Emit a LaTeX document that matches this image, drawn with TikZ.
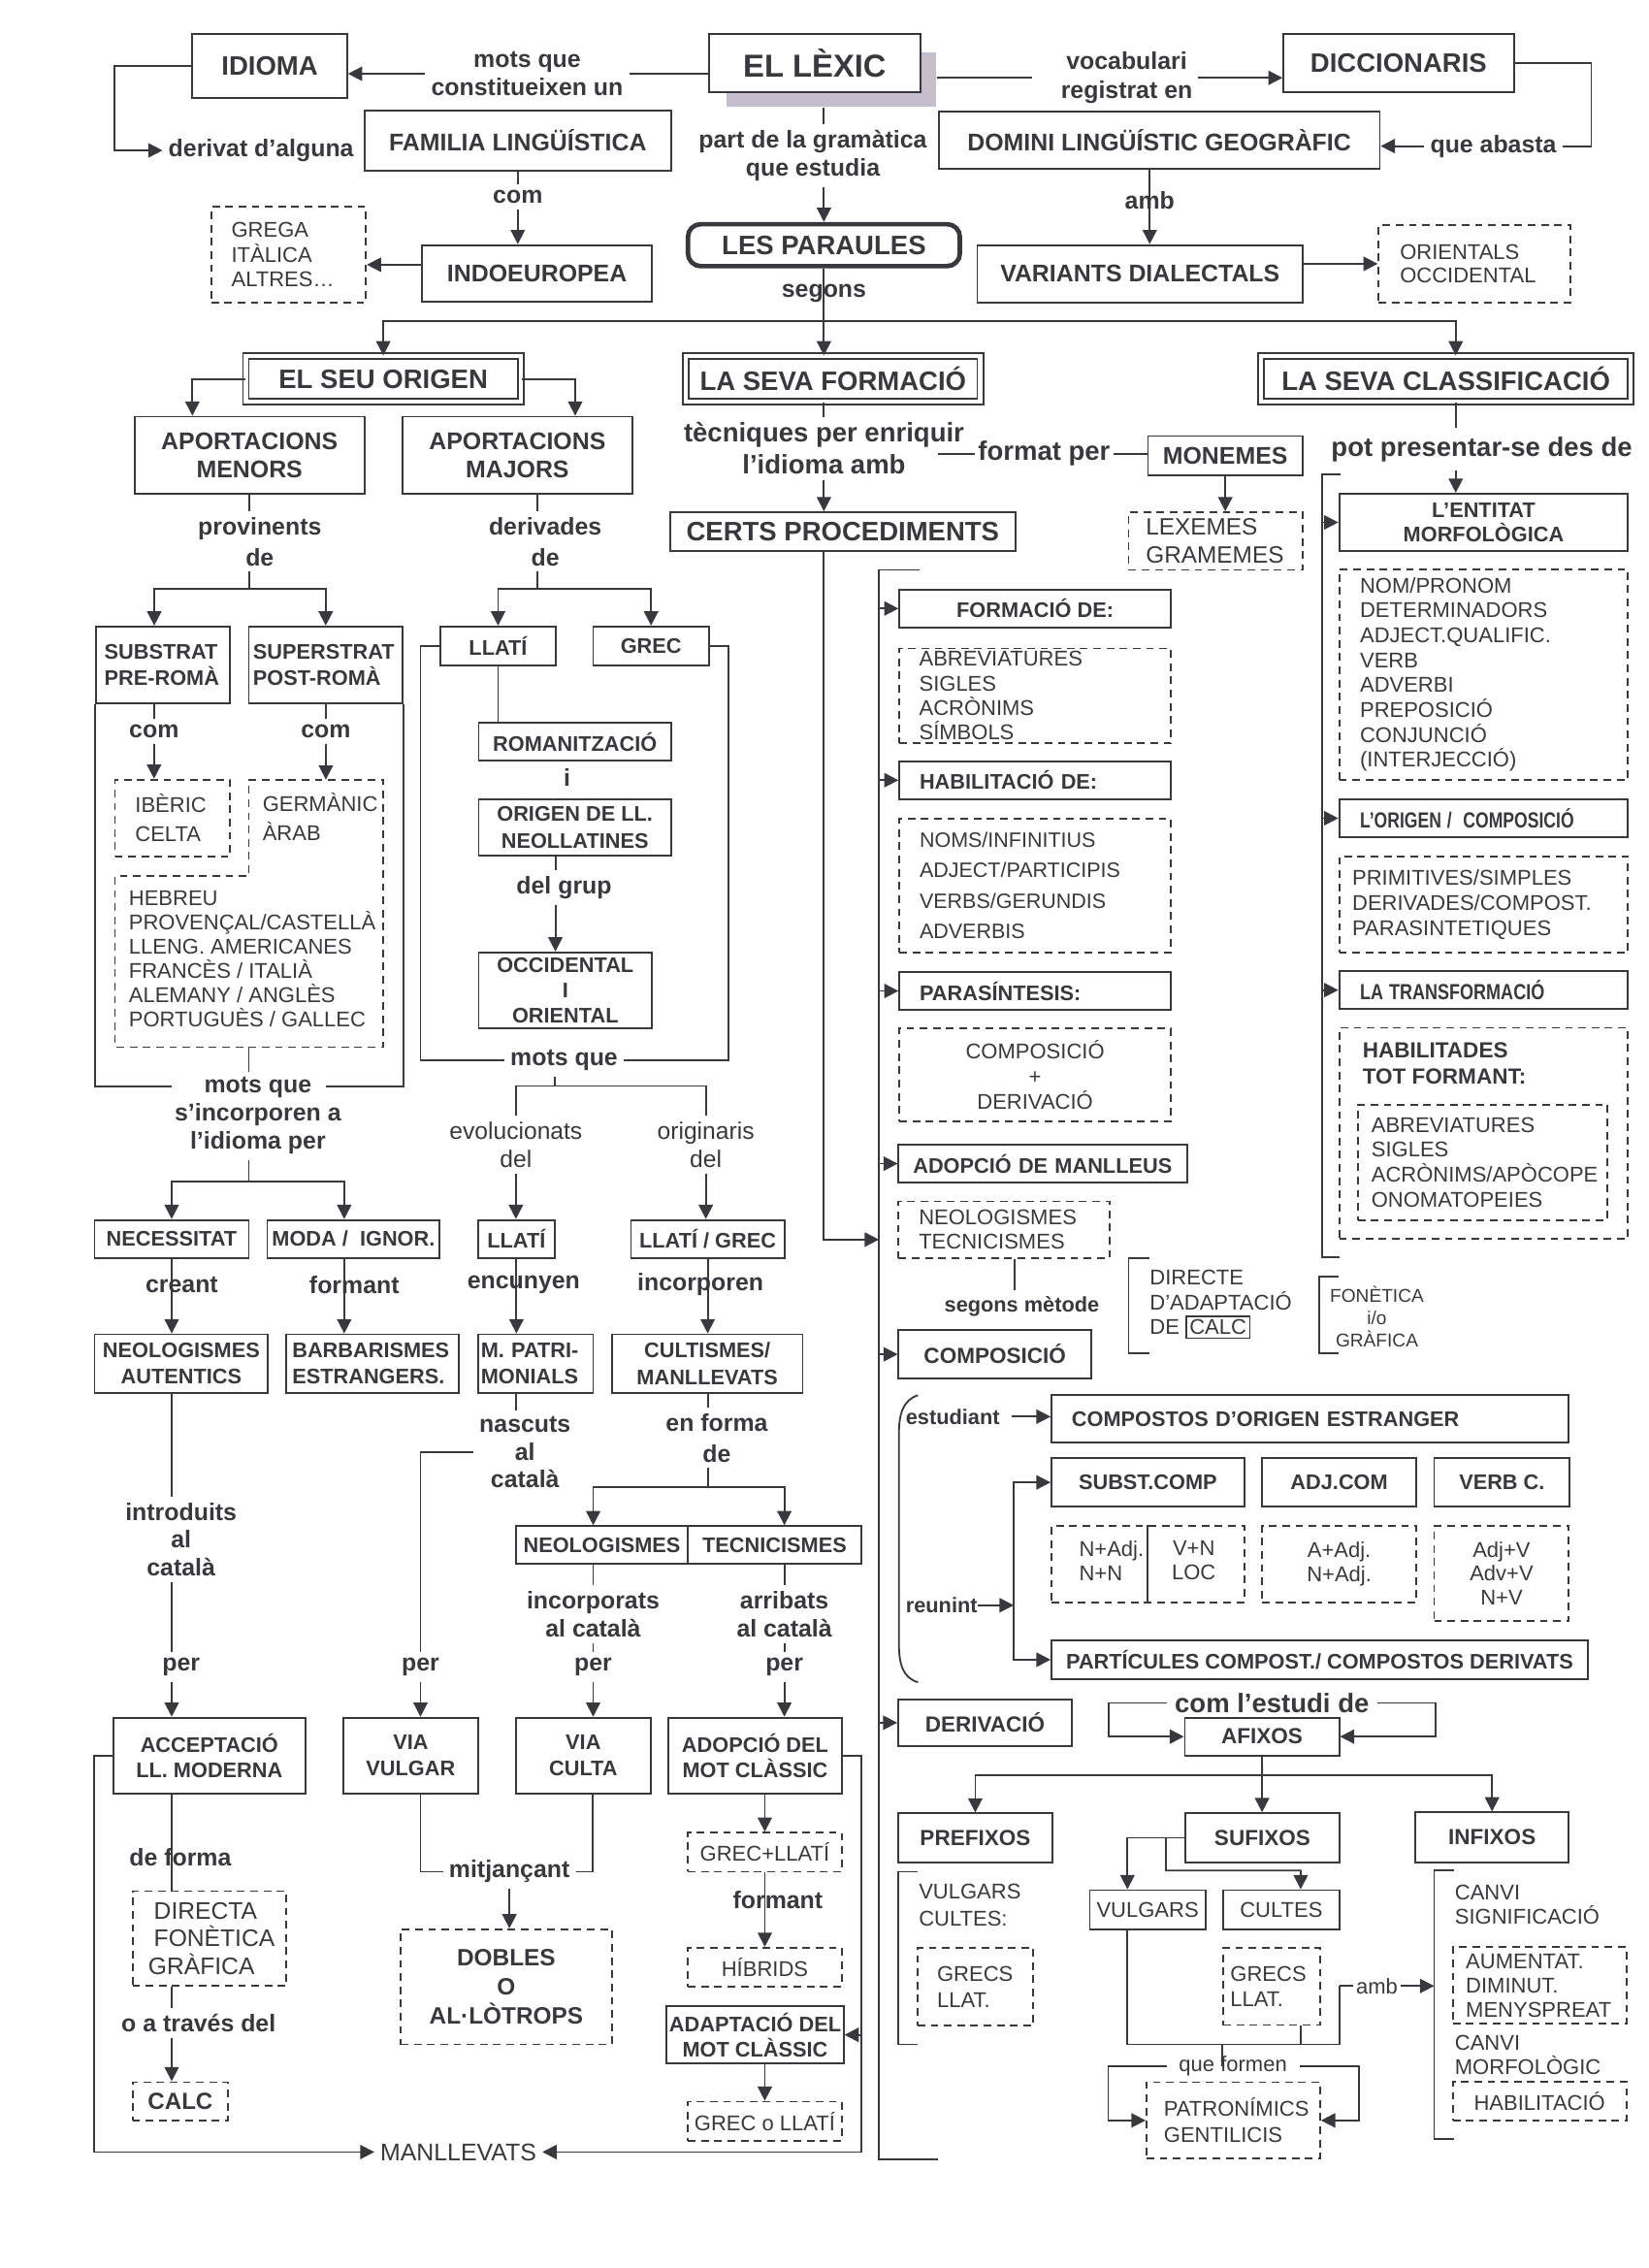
\documentclass[tikz,border=0pt]{standalone}
\usepackage{fontspec}
\setmainfont{Liberation Sans}
\usepackage{graphicx}
\usetikzlibrary{arrows.meta}
\definecolor{ink}{RGB}{58,56,62}
\definecolor{lexshade}{RGB}{198,190,202}
\setlength\fboxsep{1pt}
\setlength\fboxrule{0.6pt}
\tikzset{
  dsh/.style={dash pattern=on 3pt off 2.2pt},
  box/.style={draw, inner sep=1pt, align=center},
  dbox/.style={draw, dsh, inner sep=1pt, align=center},
  dbl/.style={draw, double=white, double distance=1.6pt, inner sep=1pt, align=center},
  sz/.style 2 args={minimum width=#1*0.02cm, minimum height=#2*0.02cm},
  lbox/.code n args={3}{%
    \pgfmathsetmacro\lbw{(#1-2*#3)*0.02}%
    \pgfmathsetmacro\lbp{#3*0.02}%
    \edef\lbopts{align=left, text width=\lbw cm, inner xsep=\lbp cm, minimum height=#2*0.02cm}%
    \expandafter\pgfkeysalso\expandafter{\lbopts}},
  arr/.style={-{Triangle[length=5.6pt,width=5.6pt]}},
  lab/.style={font=\fontsize{9.5}{#1}\selectfont\bfseries, align=center, inner sep=2pt},
  lab/.default=11,
  hd/.style={font=\fontsize{10.5}{12.4}\selectfont\bfseries},
  bx/.style={font=\fontsize{8.3}{#1}\selectfont\bfseries},
  bx/.default=10.6,
  bb/.style={font=\fontsize{8.6}{10}\selectfont\bfseries},
  pl/.style={font=\fontsize{8.4}{#1}\selectfont},
  pl/.default=9.8,
}
\begin{document}
\begin{tikzpicture}[x=0.02cm, y=-0.02cm, color=ink, line width=0.7pt]
\useasboundingbox (0,0) rectangle (1140,1568);

% top row
\node[fill=lexshade, sz={145}{38}, inner sep=0] (lexsh) at (574.5,55) {};
\node[box, fill=white, font=\fontsize{12.5}{14}\selectfont\bfseries, sz={146.5}{40}] (lexic) at (563.3,43.6) {EL LÈXIC};
\node[box, hd, sz={107}{44.4}] (idioma) at (186.5,45.8) {IDIOMA};
\node[box, hd, sz={159.3}{40}] (dicc) at (967,43.6) {DICCIONARIS};
\node[box, lab, sz={212}{41.5}] (famil) at (358,97.3) {FAMILIA LINGÜÍSTICA};
\node[box, lab, sz={305}{39.8}] (domini) at (801.5,96.9) {DOMINI LINGÜÍSTIC GEOGRÀFIC};
\node[box, lab, sz={158.9}{39.2}] (indo) at (371.3,189) {INDOEUROPEA};
\node[box, lab, sz={225}{39.6}] (varia) at (788.2,189.2) {VARIANTS DIALECTALS};
\node[dbox, pl=9.9, lbox={107}{66}{14}] (grega) at (199.5,176) {GREGA\\ITÀLICA\\ALTRES…};
\node[dbox, pl=9.4, lbox={132.7}{53.2}{14.8}] (orient) at (1019.5,182.4) {ORIENTALS\\OCCIDENTAL};
\node[box, hd, line width=1.8pt, rounded corners=5pt, sz={188}{29}] (paraules) at (569.65,169.5) {LES PARAULES};
\node[lab=11.3] (motsq) at (364.5,51) {mots que\\constitueixen un};
\node[lab=11.5] (vocab) at (779,53.8) {vocabulari\\registrat en};
\node[lab] (abasta) at (1032.5,101) {que abasta};
\node[lab] (deriv) at (180.5,104) {derivat d’alguna};
\node[lab] (com1) at (358,136) {com};
\node[lab=11.3] (gram) at (562,107.5) {part de la gramàtica\\que estudia};
\node[lab] (amb1) at (794.9,138.6) {amb};
\node[lab] (segons) at (569.7,202.7) {segons};

% el seu origen
\node[dbl, hd, sz={190}{31.3}] (origen) at (265,262) {EL SEU ORIGEN};
\node[dbl, hd, sz={203.5}{31.3}] (formacio) at (576,262) {LA SEVA FORMACIÓ};
\node[dbl, hd, sz={255.8}{31.3}] (classif) at (999.7,262) {LA SEVA CLASSIFICACIÓ};
\node[box, lab, sz={159}{53.3}] (menors) at (172.5,314.7) {APORTACIONS\\MENORS};
\node[box, lab, sz={158.6}{53.3}] (majors) at (357.7,314.7) {APORTACIONS\\MAJORS};
\node[lab=12] (provin) at (179.6,374.5) {provinents\\de};
\node[lab=12] (derivd) at (377,374.5) {derivades\\de};
\node[box, bx, lbox={92.9}{53.4}{6}] (substr) at (112.65,459.8) {SUBSTRAT\\PRE-ROMÀ};
\node[box, bx, lbox={106.4}{53.4}{3}] (superstr) at (225.2,459.8) {SUPERSTRAT\\POST-ROMÀ};
\node[lab] (com2) at (106.5,505.8) {com};
\node[lab] (com3) at (225.3,505.8) {com};
\node[dbox, pl=11.6, lbox={79.6}{53.2}{14}] (iberic) at (119.3,565.6) {IBÈRIC\\CELTA};
\node[pl=11.6, align=left, anchor=west, inner sep=0] (germ) at (181,564.75) {GERMÀNIC\\ÀRAB};
\node[pl=9.6, align=left, anchor=west, inner sep=0] (hebreu) at (88.5,663) {HEBREU\\PROVENÇAL/CASTELLÀ\\LLENG. AMERICANES\\FRANCÈS / ITALIÀ\\ALEMANY / ANGLÈS\\PORTUGUÈS / GALLEC};
\node[lab=11] (motsinc) at (178.3,771.4) {mots que\\s’incorporen a\\l’idioma per};
\node[box, bx, sz={106.6}{26.2}] (necess) at (118.7,856.5) {NECESSITAT};
\node[box, bx, sz={119.2}{26.2}] (moda) at (244.4,856.5) {MODA /\ \ IGNOR.};
\node[box, bx, sz={119.9}{40.3}] (neoaut) at (125.35,942.65) {NEOLOGISMES\\AUTENTICS};
\node[box, bx, lbox={119.8}{40.3}{4.5}] (barb) at (257.5,942.65) {BARBARISMES\\ESTRANGERS.};
\node[lab=10.9] (introd) at (125.2,1064.2) {introduits\\al\\català};
\node[lab] (per1) at (125.2,1152.6) {per};
\node[box, bx=9.8, sz={132.9}{52.5}] (accept) at (144.75,1213.75) {ACCEPTACIÓ\\LL. MODERNA};
\node[dbox, font=\fontsize{9.4}{11}\selectfont, lbox={106.5}{65.6}{11}] (direct) at (144.85,1340.2) {\hspace*{2.2pt}DIRECTA\\\hspace*{2.2pt}FONÈTICA\\GRÀFICA};
\node[lab] (atrav) at (137.3,1398.7) {o a través del};
\node[dbox, font=\fontsize{9.2}{11}\selectfont\bfseries, sz={66.2}{26.5}] (calc1) at (124.7,1452.75) {CALC};
\node[font=\fontsize{9.5}{11}\selectfont, inner sep=2pt] (manll) at (316.9,1487.8) {MANLLEVATS};

% llati i grec
\node[box, bx, sz={79.5}{27.2}] (llati1) at (344.35,446.7) {LLATÍ};
\node[box, bx, sz={80.1}{27.2}] (grec1) at (450.15,446.7) {GREC};
\node[box, bx, sz={133}{25.9}] (romanit) at (397.5,512.85) {ROMANITZACIÓ};
\node[lab] (i1) at (392,537.3) {i};
\node[box, bx, sz={133}{39.2}] (neollat) at (397.5,572.1) {ORIGEN DE LL.\\NEOLLATINES};
\node[lab] (grup) at (390,613.5) {del grup};
\node[box, bx=10, sz={119.7}{52.6}] (occid) at (390.85,684.7) {OCCIDENTAL\\I\\ORIENTAL};
\node[lab] (motsq2) at (390,733) {mots que};
\node[font=\fontsize{9.4}{11}\selectfont, align=center, inner sep=2pt] (evol) at (356.7,791.3) {evolucionats\\del};
\node[font=\fontsize{9.4}{11}\selectfont, align=center, inner sep=2pt] (orig) at (488,791.3) {originaris\\del};
\node[box, bx, sz={53.1}{26.2}] (llati2) at (357.05,856.5) {LLATÍ};
\node[box, bx, sz={106}{26.2}] (llagr) at (489.3,856.5) {LLATÍ / GREC};
\node[box, bx, lbox={79.6}{40.3}{2}] (patri) at (370.3,942.65) {M. PATRI-\\MONIALS};
\node[box, bx, sz={132}{40.3}] (cult) at (489,942.65) {CULTISMES/\\MANLLEVATS};
\node[lab=10.8] (nasc) at (363,1004) {nascuts\\al\\català};
\node[lab] (per2) at (290.7,1152.6) {per};
\node[lab=12] (enf) at (495.6,994.2) {en forma\\de};
\node[box, bx, sz={118.9}{26.2}] (neol) at (416.15,1068.2) {NEOLOGISMES};
\node[box, bx, sz={119.8}{26.2}] (tecn) at (535.5,1068.2) {TECNICISMES};
\node[lab=11.3] (incorp) at (410.1,1115.9) {incorporats\\al català};
\node[lab=11.3] (arrib) at (542.3,1115.9) {arribats\\al català};
\node[lab] (per3) at (410.1,1152.6) {per};
\node[lab] (per4) at (542.3,1152.6) {per};
\node[box, bx=10.2, sz={93.1}{52.5}] (vvulg) at (283.95,1213.75) {VIA\\VULGAR};
\node[box, bx=10.2, sz={93.2}{52.5}] (vcult) at (403.3,1213.75) {VIA\\CULTA};
\node[box, bx=10, sz={119.8}{52.5}] (adopc) at (522.1,1213.75) {ADOPCIÓ DEL\\MOT CLÀSSIC};
\node[lab] (mitj) at (352.2,1294) {mitjançant};
\node[dbox, font=\fontsize{9.3}{11.3}\selectfont\bfseries, sz={146}{79.6}] (dobles) at (350,1373.6) {DOBLES\\O\\AL·LÒTROPS};
\node[dbox, pl, sz={106.4}{27}] (grll) at (528.8,1280.5) {GREC+LLATÍ};
\node[dbox, pl, sz={106.4}{27}] (hibr) at (528.8,1360.1) {HÍBRIDS};
\node[box, bx=10, sz={119.8}{39.8}] (adapt) at (522.1,1406.8) {ADAPTACIÓ DEL\\MOT CLÀSSIC};
\node[dbox, pl, sz={106.4}{27}] (grol) at (528.8,1466.5) {GREC o LLATÍ};

% la seva formacio
\node[hd, align=center, inner sep=2pt] (tecniq) at (569.7,310) {tècniques per enriquir\\l’idioma amb};
\node[hd, inner sep=1pt] (formp) at (721.9,313.6) {format per};
\node[box, lab, sz={106.9}{27}] (monem) at (847.15,315) {MONEMES};
\node[dbox, font=\fontsize{9.3}{10.9}\selectfont, lbox={120.3}{39.9}{12}] (lexem) at (840.45,374.05) {LEXEMES\\GRAMEMES};
\node[box, hd, sz={238.4}{26.9}] (certs) at (582.7,367.55) {CERTS PROCEDIMENTS};
\node[box, bx, sz={187.7}{26.4}] (formde) at (715.65,420.7) {FORMACIÓ DE:};
\node[dbox, pl=9.7, lbox={187.7}{65.4}{13.7}, inner ysep=0pt] (abrev) at (715.65,481) {ABREVIATURES\\SIGLES\\ACRÒNIMS\\SÍMBOLS};
\node[box, bx, lbox={187.7}{26.2}{14}] (habil) at (715.65,539.4) {HABILITACIÓ DE:};
\node[dbox, font=\fontsize{8.2}{11.9}\selectfont, lbox={187.7}{92.4}{14}] (noms) at (715.65,612.2) {NOMS/INFINITIUS\\ADJECT/PARTICIPIS\\VERBS/GERUNDIS\\ADVERBIS};
\node[box, bx, lbox={187.7}{26.2}{14}] (paras) at (715.65,685.1) {PARASÍNTESIS:};
\node[dbox, pl=9.9, sz={187.7}{64.2}] (compder) at (715.65,743.1) {COMPOSICIÓ\\+\\DERIVACIÓ};
\node[box, bx, lbox={199.7}{26.4}{10}] (adman) at (721.15,804.5) {ADOPCIÓ DE MANLLEUS};
\node[dbox, pl=9.8, lbox={146}{39}{14}] (neotec) at (694.3,850.1) {NEOLOGISMES\\TECNICISMES};
\node[bx, inner sep=2pt] (segmet) at (706.5,903) {segons mètode};
\node[pl=9.8, align=left, anchor=west, inner sep=0] (direc) at (794.4,901.8) {DIRECTE\\D’ADAPTACIÓ\\DE \fbox{CALC}};
\node[font=\fontsize{7.3}{8.7}\selectfont, align=center, inner sep=0] (fonet) at (952,910.4) {FONÈTICA\\i/o\\GRÀFICA};
\node[box, bb, sz={133.2}{33.4}] (compos) at (687.9,936.3) {COMPOSICIÓ};
\node[bx=10, anchor=west, inner sep=0] (estud) at (625.7,979.4) {estudiant};
\node[box, bx, lbox={357.7}{32.8}{14}] (compest) at (905.85,981) {COMPOSTOS D’ORIGEN ESTRANGER};
\node[bx=10, anchor=west, inner sep=0] (reun) at (625.7,1109.8) {reunint};
\node[box, bx, sz={133.2}{33.3}] (sub) at (793.6,1024.85) {SUBST.COMP};
\node[box, bx, sz={106.6}{33.3}] (adj) at (925.9,1024.85) {ADJ.COM};
\node[box, bx, sz={93.6}{33.3}] (verb) at (1038.4,1024.85) {VERB C.};
\node[dbox, sz={133.2}{52.7}] (nn) at (793.6,1081.35) {};
\node[pl=9.5, align=left, anchor=west, inner sep=0] (nn1) at (745.5,1078.85) {N+Adj.\\N+N};
\node[pl=9.5, align=center, inner sep=0] (nn2) at (825.4,1078.85) {V+N\\LOC};
\node[dbox, pl=9.5, sz={106.6}{52.7}] (aa) at (925.9,1081.35) {A+Adj.\\N+Adj.};
\node[dbox, pl=9.5, sz={93.1}{65.6}] (vv) at (1038.15,1087.8) {Adj+V\\Adv+V\\N+V};
\node[box, bx, sz={370.8}{26.9}] (partic) at (912.4,1147.45) {PARTÍCULES COMPOST./ COMPOSTOS DERIVATS};
\node[box, bb, sz={120.1}{32.6}] (derivac) at (681.05,1191) {DERIVACIÓ};
\node[hd, inner sep=2.8pt] (estudi) at (879.4,1177.3) {com l’estudi de};
\node[box, bb, sz={106.7}{26.2}] (afix) at (872.55,1200.6) {AFIXOS};
\node[box, bb, sz={106.6}{33.9}] (pref) at (674.3,1270.65) {PREFIXOS};
\node[box, bb, sz={106.2}{34.1}] (suf) at (872.8,1270.55) {SUFIXOS};
\node[box, bb, sz={106.2}{34.6}] (inf) at (1031.6,1270.3) {INFIXOS};
\node[pl=10.5, align=left, anchor=west, inner sep=0] (vulcul) at (634.7,1317.25) {VULGARS\\CULTES:};
\node[dbox, pl=10.2, lbox={80.1}{53.9}{13.5}] (grecs1) at (674.45,1373.55) {GRECS\\LLAT.};
\node[box, pl, sz={79.9}{27}] (vulg) at (793.45,1320.3) {VULGARS};
\node[box, pl, sz={80.1}{27}] (cult2) at (885.85,1320.3) {CULTES};
\node[dbox, pl=10.2, lbox={66.9}{53.4}{4.9}] (grecs2) at (879.25,1373.3) {GRECS\\LLAT.};
\node[pl, inner sep=1pt] (amb2) at (952,1373) {amb};
\node[pl, inner sep=4.5pt] (queform) at (852.5,1428.7) {que formen};
\node[dbox, pl=10.2, lbox={120}{52.9}{12}] (patro) at (852.7,1465.95) {PATRONÍMICS\\GENTILICIS};
\node[pl=9.5, align=left, anchor=west, inner sep=0] (canvi1) at (1005.3,1317) {CANVI\\SIGNIFICACIÓ};
\node[dbox, pl=9.5, lbox={119.9}{53.1}{9}] (aument) at (1064.45,1372.65) {AUMENTAT.\\DIMINUT.\\MENYSPREAT};
\node[pl=9.5, align=left, anchor=west, inner sep=0] (canvi2) at (1005.3,1420.65) {CANVI\\MORFOLÒGIC};
\node[dbox, pl, sz={119.9}{27}] (habi2) at (1064.45,1452.5) {HABILITACIÓ};

% la seva classificacio
\node[hd] (pot) at (1024.5,310.5) {pot presentar-se des de};
\node[box, bx=9.8, sz={199.7}{39.7}] (entit) at (1025.75,361.15) {L’ENTITAT\\MORFOLÒGICA};
\node[dbox, pl=9.8, lbox={199.7}{145.5}{14.4}] (nompr) at (1025.75,466.35) {NOM/PRONOM\\DETERMINADORS\\ADJECT.QUALIFIC.\\VERB\\ADVERBI\\PREPOSICIÓ\\CONJUNCIÓ\\(INTERJECCIÓ)};
\node[box, bb, lbox={199.7}{26.4}{14.4}] (orig2) at (1025.75,565.7) {\scalebox{0.78}[1]{L'ORIGEN /\ \ COMPOSICIÓ}};
\node[dbox, pl=9.9, lbox={199.7}{66.2}{9.1}] (primit) at (1025.75,625.3) {PRIMITIVES/SIMPLES\\DERIVADES/COMPOST.\\PARASINTETIQUES};
\node[box, bb, lbox={199.7}{26.4}{14.4}] (transf) at (1025.75,684.5) {\scalebox{0.8}[1]{LA TRANSFORMACIÓ}};
\node[dbox, sz={199.7}{145.8}] (habit) at (1025.75,783.4) {};
\node[font=\fontsize{8.6}{10.2}\selectfont\bfseries, align=left, anchor=west, inner sep=0] (habt) at (941.5,735.4) {HABILITADES\\TOT FORMANT:};
\node[dbox, pl=9.8, lbox={172.7}{79.8}{9.4}] (ab2) at (1025.15,803.5) {ABREVIATURES\\SIGLES\\ACRÒNIMS/APÒCOPE\\ONOMATOPEIES};

% connectors, top
\draw (lexic.west |- motsq) -- (motsq.east);
\draw[arr] (motsq.west) -- (motsq.west -| idioma.east);
\draw (lexsh.east |- vocab) -- ([xshift=-0.32cm]vocab.west);
\draw[arr] (vocab.east) -- (vocab.east -| dicc.west);
\draw (dicc.east) -- ++(52.9,0) |- (abasta.east);
\draw[arr] (abasta.west) -- (abasta.west -| domini.east);
\draw[arr] (idioma.west) -- ++(-53.5,0) |- (deriv.west);
\draw (famil.south) -- (com1.north);
\draw[arr] (com1.south) -- (com1.south |- indo.north);
\draw[arr] ([yshift=3.4pt]indo.west) coordinate (t) -- (t -| grega.east);
\draw (lexsh.south -| paraules) -- (gram.north -| paraules);
\draw[arr] (gram.south -| paraules) -- (paraules.north);
\draw[arr] (domini.south -| amb1) -- (amb1 |- varia.north);
\draw[arr] (varia.east |- orient.west) -- (orient.west);
\draw[arr] (paraules.south) -- (paraules.south |- formacio.north);
\coordinate (split) at (569.65,222);
\coordinate (splitr) at (1006.5,222);
\draw[arr] (split) -| (origen.north);
\draw[arr] (split) -- (splitr) -- (splitr |- classif.north);

% connectors, origen
\draw[arr] (origen.west) -| ([xshift=-0.79cm]menors.north);
\draw[arr] (origen.east) -| ([xshift=0.8cm]majors.north);
\coordinate (pj) at (172.4,407);
\coordinate (dj) at (371.3,407);
\draw (menors.south) -- (menors.south |- provin.north);
\draw (pj |- provin.south) -- (pj);
\draw[arr] (pj) -| ([xshift=-0.12cm]substr.north);
\draw[arr] (pj) -| (superstr.north);
\draw (dj |- majors.south) -- (dj |- derivd.north);
\draw (dj |- derivd.south) -- (dj);
\draw[arr] (dj) -| (llati1.north);
\draw[arr] (dj) -| (grec1.north);
\draw (com2 |- substr.south) -- (com2.north);
\draw[arr] (com2.south) -- (com2.south |- iberic.north);
\coordinate (g1) at (172,539);
\coordinate (g2) at (264.8,539);
\coordinate (g3) at (264.8,724);
\coordinate (g4) at (79.5,724);
\coordinate (g5) at (79.5,605.8);
\coordinate (g6) at (172,605.8);
\draw[dsh] (g1) -- (g2) -- (g3) -- (g4) -- (g5) -- (g6) -- cycle;
\draw (com3 |- superstr.south) -- (com3.north);
\draw[arr] (com3.south) -- (com3.south |- g1);
\draw (substr.south west) -- ++(0,263.8) -- ++(53.1,0);
\draw (superstr.south east) -- ++(0,263.8) -- ++(-53.9,0);
\draw (g4 -| g1) -- (motsinc.north -| g1);
\coordinate (ij) at (172,817);
\draw (motsinc.south -| ij) -- (ij);
\draw[arr] (ij) -| (necess.north);
\draw[arr] (ij) -| ([xshift=-0.128cm]moda.north);
\draw[arr] (necess.south) -- node[lab, pos=.35, xshift=0.14cm]{creant} (necess.south |- neoaut.north);
\draw[arr] ([xshift=-0.128cm]moda.south) coordinate (m1) -- node[lab, pos=.35, xshift=0.14cm]{formant} (m1 |- barb.north);
\draw (necess.south |- neoaut.south) -- (necess.south |- introd.north);
\draw (necess.south |- introd.south) -- (necess.south |- per1.north);
\draw[arr] (necess.south |- per1.south) -- (necess.south |- accept.north);
\draw (necess.south |- accept.south) -- node[lab, pos=.66, xshift=0.12cm]{de forma} (necess.south |- direct.north);
\draw (necess.south |- direct.south) -- (necess.south |- atrav.north);
\draw[arr] (necess.south |- atrav.south) -- (necess.south |- calc1.north);
\draw[arr] (accept.west) -- ++(-12.9,0) |- (manll.west);
\draw[arr] (adopc.east) -- ++(13,0) |- (manll.east);
\draw[arr] (adopc.east) ++(13,0) |- (adapt.east);

% connectors, llati i grec
\draw (llati1.south) -- (llati1.south |- romanit.north);
\draw ([xshift=-0.27cm]neollat.south) coordinate (n1) -- (n1 |- grup.north);
\draw[arr] (n1 |- grup.south) -- (n1 |- occid.north);
\draw (llati1.west) -- ++(-13.3,0) |- (motsq2.west);
\draw (grec1.east) -- ++(12.8,0) |- (motsq2.east);
\coordinate (mj) at (383.6,750.8);
\draw (mj |- motsq2.south) -- (mj);
\draw (mj) -| (evol.north);
\draw (mj) -| (orig.north);
\draw[arr] (evol.south) -- (evol.south |- llati2.north);
\draw[arr] (orig.south) -- (orig.south |- llagr.north);
\draw[arr] (llati2.south) -- node[lab, pos=.35, xshift=0.1cm]{encunyen} (llati2.south |- patri.north);
\draw[arr] (llagr.south) -- node[lab, pos=.35, xshift=-0.1cm]{incorporen} (llagr.south |- cult.north);
\draw (llati2.south |- patri.south) -- (llati2.south |- nasc.north);
\draw (nasc.west) -| (per2.north);
\draw[arr] (per2.south) -- (per2.south |- vvulg.north);
\coordinate (ej) at (489.7,1028.2);
\draw (llagr.south |- cult.south) -- (llagr.south |- enf.north);
\draw (ej |- enf.south) -- (ej);
\draw[arr] (ej) -| ([xshift=-0.12cm]neol.north);
\draw[arr] (ej) -| ([xshift=0.136cm]tecn.north);
\draw (incorp |- neol.south) -- (incorp.north);
\draw (incorp.south) -- (per3.north);
\draw[arr] (per3.south) -- (per3.south |- vcult.north);
\draw (arrib |- tecn.south) -- (arrib.north);
\draw (arrib.south) -- (per4.north);
\draw[arr] (per4.south) -- (per4.south |- adopc.north);
\draw ([xshift=0.135cm]vvulg.south) |- (mitj.west);
\draw (mitj.east) -| ([xshift=0.126cm]vcult.south);
\draw[arr] (mitj.south) -- (mitj.south |- dobles.north);
\draw[arr] (grll.north |- adopc.south) -- (grll.north);
\draw[arr] (grll.south) -- node[lab, pos=.37, xshift=0.18cm]{formant} (hibr.north);
\draw[arr] (grol.north |- adapt.south) -- (grol.north);

% connectors, formacio
\draw (split |- formacio.south) -- (split |- tecniq.north);
\draw[arr] (split |- tecniq.south) -- (split |- certs.north);
\coordinate (fp) at (648.8,313.6);
\draw (fp) -- (formp.west);
\draw (formp.east) -- (formp.east -| monem.west);
\draw[arr] (monem.south) -- (monem.south |- lexem.north);
\coordinate (vt) at (607.7,394);
\coordinate (vb) at (607.7,1493);
\coordinate (vm) at (607.7,857);
\draw ([xshift=0.566cm]vt) -- (vt) -- (vb) -- ([xshift=0.812cm]vb);
\draw[arr] (split |- certs.south) |- (vm);
\foreach \n in {formde,habil,paras,adman,compos,derivac}
  \draw[arr] (vt |- \n.west) -- (\n.west);
\draw ([xshift=0.142cm]neotec.south) coordinate (s1) -- (s1 |- segmet.north);
\draw (direc.west) ++(0,-31.9) -- ++(-14.1,0) -- ++(0,65.9) -- ++(14.1,0);
\draw (fonet.west) ++(6.2,-27.7) -- ++(-13.2,0) -- ++(0,53.1) -- ++(13.2,0);
\draw (634.7,964.6) .. controls (624,968) and (621.5,978) .. (621.5,992) -- (621.5,1136) .. controls (621.5,1150) and (624,1160) .. (634.7,1163);
\draw[arr] ([xshift=0.15cm]estud.east) coordinate (e1) -- (e1 -| compest.west);
\coordinate (rv) at (700.9,1109.8);
\draw[arr] (reun.east) -- (rv);
\draw[arr] (rv) |- (sub.west);
\draw[arr] (rv) |- (partic.west);
\draw (nn.north) -- (nn.south);
\draw[arr] (estudi.west) -- ++(-40.4,0) |- (afix.west);
\draw[arr] (estudi.east) -- ++(40.7,0) |- (afix.east);
\coordinate (aj) at (872.6,1227.3);
\draw (afix.south) -- (aj);
\draw[arr] (aj) -| (pref.north);
\draw[arr] (aj) -- (aj |- suf.north);
\draw[arr] (aj) -| (inf.north);
\draw (vulcul.west) ++(0,-23.25) -- ++(-13.7,0) -- ++(0,119.4) -- ++(13.7,0);
\draw[arr] (suf.west) -| ([xshift=-0.279cm]vulg.north);
\coordinate (sv) at (806.1,1270.55);
\draw[arr] (sv) |- ++(93.2,22.65) -- ([xshift=0.269cm]cult2.north);
\coordinate (sj) at (925.9,1413.4);
\draw ([xshift=-0.279cm]vulg.south) |- (sj) -- ++(0,-40.4) coordinate (ambs);
\draw ([xshift=0.401cm]grecs2.south) coordinate (g7) -- (g7 |- sj);
\draw (canvi1.west) ++(0,-23.8) -- ++(-13.7,0) coordinate (ib) -- ++(0,185.6) -- ++(13.7,0);
\draw (ambs) -- (amb2.west);
\draw[arr] (amb2.east) -- (amb2.east -| ib);
\draw (grecs2.west |- sj) -- (grecs2.west |- queform);
\draw[arr] (queform.west) -- ++(-40.4,0) |- (patro.west);
\draw[arr] (queform.east) -- ++(41,0) |- (patro.east);

% connectors, classificacio
\draw (splitr |- classif.south) -- (splitr |- pot.north);
\draw[arr] (splitr |- pot.south) -- (splitr |- entit.north);
\coordinate (ct) at (914,328);
\coordinate (cb) at (914,869.1);
\draw ([xshift=0.26cm]ct) -- (ct) -- (cb) -- ([xshift=0.238cm]cb);
\foreach \n in {entit,orig2,transf}
  \draw[arr] (ct |- \n.west) -- (\n.west);
\end{tikzpicture}
\end{document}
